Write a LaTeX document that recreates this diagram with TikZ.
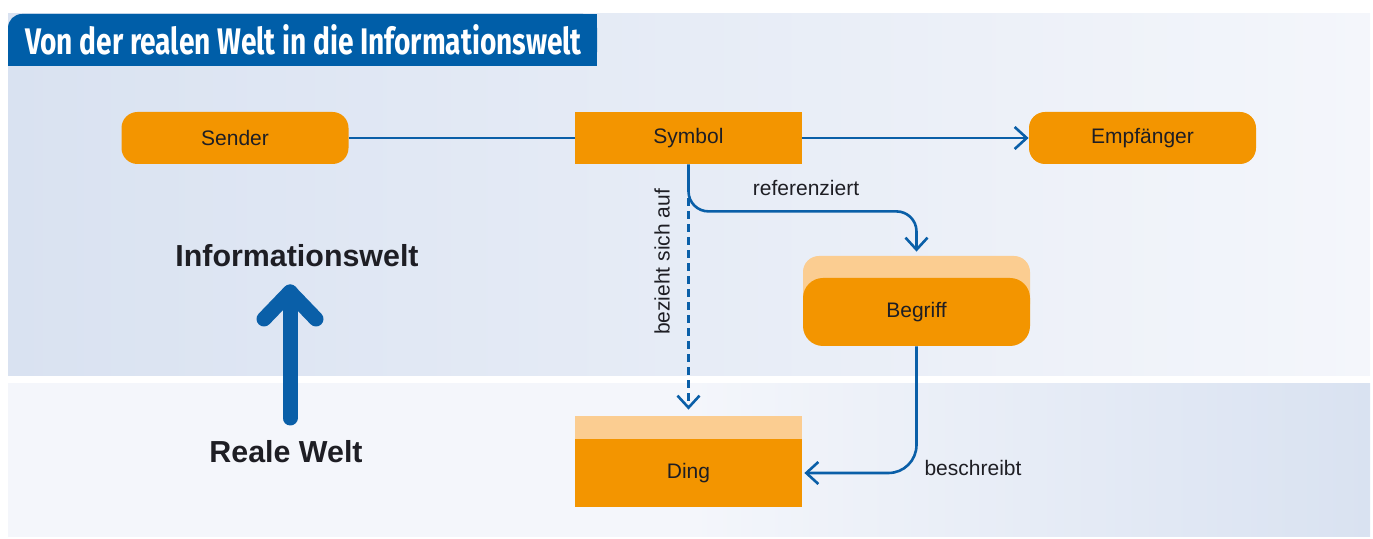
\documentclass[tikz,border=0pt]{standalone}
\usepackage{fontspec}
\setmainfont{Liberation Sans}
\newfontfamily\titelfont[FakeStretch=0.76]{Fira Sans}
\usetikzlibrary{arrows.meta, calc}
\definecolor{orangebox}{HTML}{F39500}
\definecolor{orangehell}{HTML}{FBCD91}
\definecolor{linkblau}{HTML}{0A5FA8}
\definecolor{titelblau}{HTML}{005EA8}
\definecolor{panelblau}{HTML}{D9E2F1}
\definecolor{panelhell}{HTML}{F4F6FB}
\definecolor{textgrau}{HTML}{1E1E24}

\begin{document}
\begin{tikzpicture}[x=0.5pt, y=-0.5pt,
    kasten/.style={fill=orangebox, minimum width=113.5pt, minimum height=26pt, inner sep=0pt,
        text=textgrau, font=\fontsize{10.5}{12}\selectfont},
    rundkasten/.style={kasten, rounded corners=8pt},
    verbindung/.style={draw=linkblau, line width=1.3pt, -{Straight Barb[length=6pt,width=11pt]}},
    beschriftung/.style={text=textgrau, font=\fontsize{10.5}{12}\selectfont, inner sep=1pt},
    weltlabel/.style={text=textgrau, font=\fontsize{15.2}{18}\selectfont\bfseries},
    bigpfeil/.style={draw=linkblau, line width=7.5pt, line cap=round, line join=round}]
    \useasboundingbox (0,0) rectangle (1373,539);
    % hintergrund oben
    \fill[left color=panelblau, right color=panelhell] (8,14) rectangle (1370,376);
    % hintergrund unten
    \fill[left color=panelhell, right color=panelblau, middle color=panelhell] (8,384) rectangle (1370,537);
    % titel
    \fill[titelblau, rounded corners=7pt] (8,14) rectangle (597,66);
    \fill[titelblau] (200,14) rectangle (597,66);
    \fill[titelblau] (8,40) rectangle (597,66);
    \node[anchor=west, text=white, font=\titelfont\fontsize{18.5}{20}\selectfont\bfseries] (titel) at (18,40)
        {Von der realen Welt in die Informationswelt};

    % kaesten
    \node[rundkasten] (sender) at (235,138) {Sender};
    \node[kasten] (symbol) at (688.5,138) {Symbol};
    \node[rundkasten] (empfaenger) at (1142.5,138) {Empfänger};
    \node[rundkasten, fill=orangehell, minimum height=32pt] (begriffbg) at (916.5,288) {};
    \node[rundkasten, minimum height=34pt, rounded corners=10pt] (begriff) at (916.5,312) {Begriff};
    \node[kasten, fill=orangehell, minimum height=24pt] (dingbg) at (688.5,440) {};
    \node[kasten, minimum height=34pt] (ding) at (688.5,473) {Ding};

    % verbindungen
    \draw[verbindung, -] (sender) -- (symbol);
    \draw[verbindung] (symbol) -- (empfaenger);
    \draw[verbindung, rounded corners=10pt, shorten >=2pt] (symbol.south) |- ++(228,47) -- (begriffbg.north);
    \draw[verbindung, dashed, dash pattern=on 4pt off 2.5pt, shorten >=3pt] ([yshift=-17pt]symbol.south) -- (dingbg.north);
    \draw[verbindung, rounded corners=14pt, shorten >=1pt] (begriff.south) |- (ding.east);

    % beschriftungen
    \node[beschriftung] (referenziert) at (806,188) {referenziert};
    \node[beschriftung, rotate=90] (bezieht) at (662,262) {bezieht sich auf};
    \node[beschriftung] (beschreibt) at (973,468) {beschreibt};

    % welten und grosser pfeil
    \node[weltlabel] (infowelt) at (297,256) {Informationswelt};
    \node[weltlabel] (realwelt) at (286,452) {Reale Welt};
    \coordinate (pfeilfuss) at (290,418);
    \coordinate (pfeilkopf) at (290,292);
    \draw[bigpfeil] (pfeilfuss) -- (pfeilkopf);
    \draw[bigpfeil] ($(pfeilkopf)+(-26,27)$) -- (pfeilkopf) -- ($(pfeilkopf)+(26,27)$);
\end{tikzpicture}
\end{document}
